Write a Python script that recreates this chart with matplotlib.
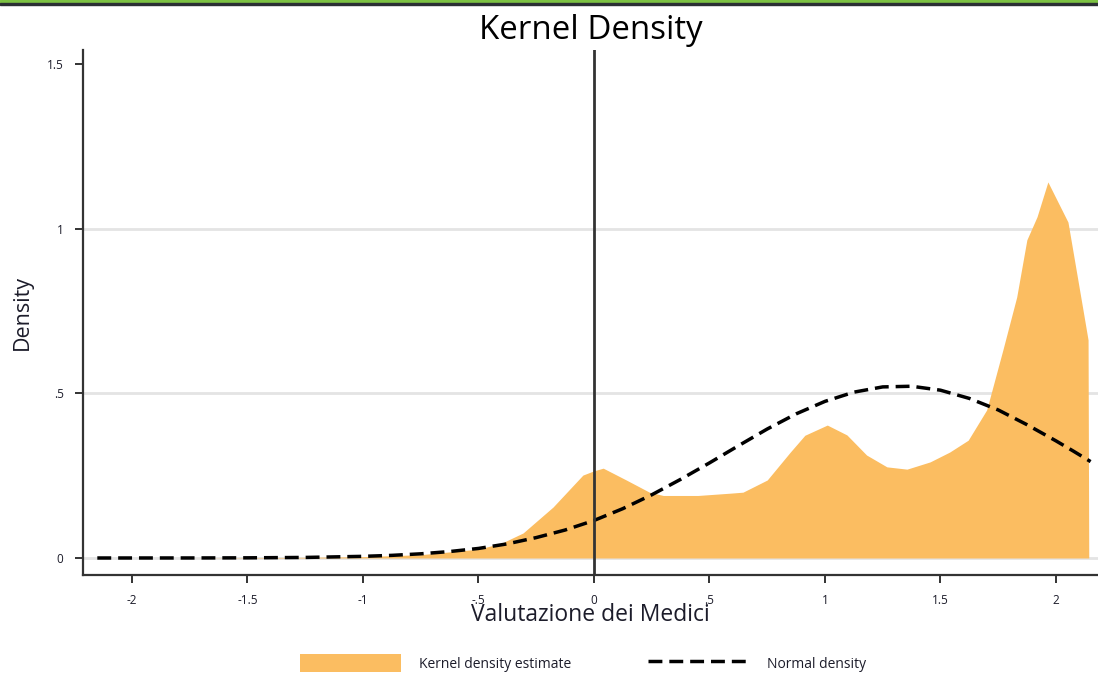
import matplotlib
matplotlib.use("Agg")
import matplotlib.pyplot as plt
from matplotlib.patches import Rectangle, Patch
from matplotlib.lines import Line2D

# ---- data ----
kde_x = [-2.15, -1.75, -1.5, -1.25, -1.0, -0.75, -0.5, -0.4, -0.307, -0.177,
         -0.048, 0.0, 0.04, 0.14, 0.24, 0.30, 0.45, 0.59, 0.645, 0.75, 0.85,
         0.913, 1.01, 1.095, 1.18, 1.268, 1.355, 1.455, 1.54, 1.62, 1.70,
         1.77, 1.83, 1.874, 1.918, 1.965, 2.052, 2.117, 2.139, 2.142]
kde_y = [0.0, 0.0, 0.001, 0.002, 0.004, 0.010, 0.027, 0.045, 0.076, 0.155,
         0.252, 0.265, 0.273, 0.237, 0.200, 0.190, 0.190, 0.197, 0.200, 0.237, 0.322,
         0.373, 0.404, 0.374, 0.313, 0.277, 0.270, 0.292, 0.322, 0.358, 0.450,
         0.632, 0.793, 0.967, 1.037, 1.143, 1.021, 0.754, 0.663, 0.0]

norm_x = [-2.15, -1.75, -1.5, -1.25, -1.0, -0.875, -0.75, -0.625, -0.5, -0.375,
          -0.25, -0.125, 0.0, 0.125, 0.25, 0.375, 0.5, 0.625, 0.75, 0.875,
          1.0, 1.125, 1.25, 1.375, 1.5, 1.625, 1.75, 1.875, 2.0, 2.075, 2.15]
norm_y = [0.0, 0.0001, 0.0005, 0.0017, 0.005, 0.008, 0.0127, 0.0196, 0.029, 0.043,
          0.062, 0.085, 0.114, 0.150, 0.192, 0.239, 0.289, 0.341, 0.392, 0.438,
          0.476, 0.504, 0.520, 0.522, 0.510, 0.485, 0.450, 0.405, 0.356, 0.325, 0.293]

x_ticks = [-2, -1.5, -1, -0.5, 0, 0.5, 1, 1.5, 2]
x_tick_labels = ["-2", "-1.5", "-1", "-.5", "0", ".5", "1", "1.5", "2"]
y_ticks = [0, 0.5, 1, 1.5]
y_tick_labels = ["0", ".5", "1", "1.5"]

title = "Kernel Density"
x_label = "Valutazione dei Medici"
y_label = "Density"
legend_labels = ["Kernel density estimate", "Normal density"]

# ---- styling ----
W, H = 1098, 674
plt.rcParams["font.family"] = ["Open Sans", "DejaVu Sans"]
fill_color = "#fbbd61"
text_color = "#1c1c2a"
spine_color = "#333333"
dash = (0, (4, 2.0))

fig = plt.figure(figsize=(W / 100, H / 100), dpi=100)
fig.patch.set_facecolor("white")

# top banner (green + dark line)
fig.patches.append(Rectangle((0, 1 - 3 / H), 1, 3 / H, transform=fig.transFigure,
                             color="#7cc242", zorder=5))
fig.patches.append(Rectangle((0, 1 - 5 / H), 1, 2 / H, transform=fig.transFigure,
                             color="#2b2f33", zorder=5))

left, right, bottom, top = 83, 1098, 575, 50
ax = fig.add_axes([left / W, 1 - bottom / H, (right - left) / W, (bottom - top) / H])

ax.set_xlim(-2.212, 2.182)
ax.set_ylim(-0.0517, 1.544)

for yv in [0, 0.5, 1]:
    ax.axhline(yv, color="#e4e4e4", lw=2, zorder=0)

ax.fill_between(kde_x, kde_y, 0, color=fill_color, lw=0, zorder=2)
ax.plot(norm_x, norm_y, color="black", lw=2.5, ls=dash, zorder=3)
ax.axvline(0, color=spine_color, lw=2, zorder=4)

for s in ["top", "right"]:
    ax.spines[s].set_visible(False)
for s in ["left", "bottom"]:
    ax.spines[s].set_color(spine_color)
    ax.spines[s].set_linewidth(1.6)

ax.set_xticks(x_ticks)
ax.set_xticklabels(x_tick_labels)
ax.set_yticks(y_ticks)
ax.set_yticklabels(y_tick_labels)
ax.tick_params(axis="both", direction="out", length=6, width=1.4, color=spine_color,
               labelsize=8.5, labelcolor=text_color)
ax.tick_params(axis="x", pad=8)
ax.tick_params(axis="y", pad=8)

ax.set_title(title, fontsize=23.8, color="black", pad=8)
ax.set_xlabel(x_label, fontsize=16.5, color=text_color, labelpad=-3)
ax.set_ylabel(y_label, fontsize=15.5, color=text_color, labelpad=10)

handles = [Patch(facecolor=fill_color, edgecolor="none"),
           Line2D([0], [0], color="black", lw=2.5, ls=dash)]
fig.legend(handles, legend_labels, loc="center", ncol=2, frameon=False,
           bbox_to_anchor=(583 / W, 1 - 663 / H), fontsize=10,
           handlelength=7.3, handleheight=1.6, columnspacing=5.5,
           handletextpad=1.3, labelcolor=text_color)

fig.savefig("out.png", dpi=100)
